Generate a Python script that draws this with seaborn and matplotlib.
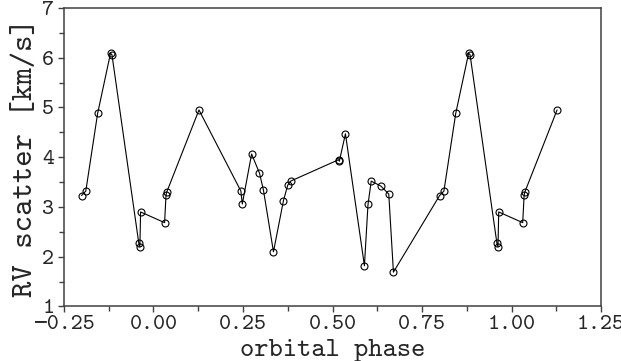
import matplotlib
matplotlib.use("Agg")
import matplotlib.pyplot as plt
import matplotlib.ticker as mticker
import seaborn as sns
import pandas as pd

# orbital phase (folded, with wrap-around repeats) and RV scatter [km/s]
phase = [-0.201, -0.189, -0.156, -0.120, -0.116, -0.041, -0.038, -0.036,
         0.031, 0.035, 0.037, 0.127, 0.244, 0.248, 0.274, 0.296, 0.307,
         0.335, 0.363, 0.375, 0.383, 0.517, 0.519, 0.536, 0.589, 0.599,
         0.608, 0.635, 0.657, 0.670, 0.799, 0.811, 0.844, 0.880, 0.884,
         0.959, 0.962, 0.964, 1.031, 1.035, 1.037, 1.127]
rv_scatter = [3.23, 3.32, 4.88, 6.09, 6.06, 2.27, 2.20, 2.90,
              2.685, 3.24, 3.30, 4.95, 3.32, 3.06, 4.065, 3.68, 3.34,
              2.10, 3.13, 3.44, 3.52, 3.95, 3.92, 4.47, 1.82, 3.05,
              3.52, 3.42, 3.26, 1.69, 3.23, 3.32, 4.88, 6.09, 6.06,
              2.27, 2.20, 2.90, 2.685, 3.24, 3.30, 4.95]
x_ticks = [-0.25, 0.00, 0.25, 0.50, 0.75, 1.00, 1.25]
y_ticks = [1, 2, 3, 4, 5, 6, 7]

df = pd.DataFrame({"phase": phase, "rv": rv_scatter})

sns.set_style("ticks")
plt.rcParams["font.family"] = ["cmtt10", "DejaVu Sans Mono"]
plt.rcParams["axes.unicode_minus"] = True

spine_col = "#404040"
fig = plt.figure(figsize=(6.21, 3.61), dpi=100)
ax = fig.add_axes([0.103, 0.151, 0.865, 0.827])

sns.lineplot(data=df, x="phase", y="rv", sort=False, estimator=None,
             color="black", linewidth=0.8, marker="o", markersize=5,
             markerfacecolor="none", markeredgecolor="black",
             markeredgewidth=0.8, ax=ax)

ax.set_xlim(x_ticks[0], x_ticks[-1])
ax.set_ylim(y_ticks[0], y_ticks[-1])
ax.set_xticks(x_ticks)
ax.set_yticks(y_ticks)
ax.xaxis.set_minor_locator(mticker.MultipleLocator(0.125))
ax.yaxis.set_minor_locator(mticker.MultipleLocator(0.5))
ax.xaxis.set_major_formatter(mticker.FuncFormatter(
    lambda v, p: ("%.2f" % v).replace("-", "\u2212")))
ax.yaxis.set_major_formatter(mticker.FuncFormatter(lambda v, p: "%d" % v))

for s in ax.spines.values():
    s.set_visible(True)
    s.set_color(spine_col)
    s.set_linewidth(1.1)

ax.tick_params(axis="both", which="major", direction="out", length=4,
               width=1.0, color=spine_col, labelsize=16.5, pad=2,
               top=False, right=False)
ax.tick_params(axis="both", which="minor", direction="out", length=3.5,
               width=1.0, color=spine_col, top=False, right=False)
ax.tick_params(axis="y", which="major", pad=3)

ax.set_xlabel("orbital phase", fontsize=19.5, labelpad=3.5)
ax.set_ylabel("RV scatter [km/s]", fontsize=22.5, labelpad=2)

fig.savefig("out.png", dpi=100)
